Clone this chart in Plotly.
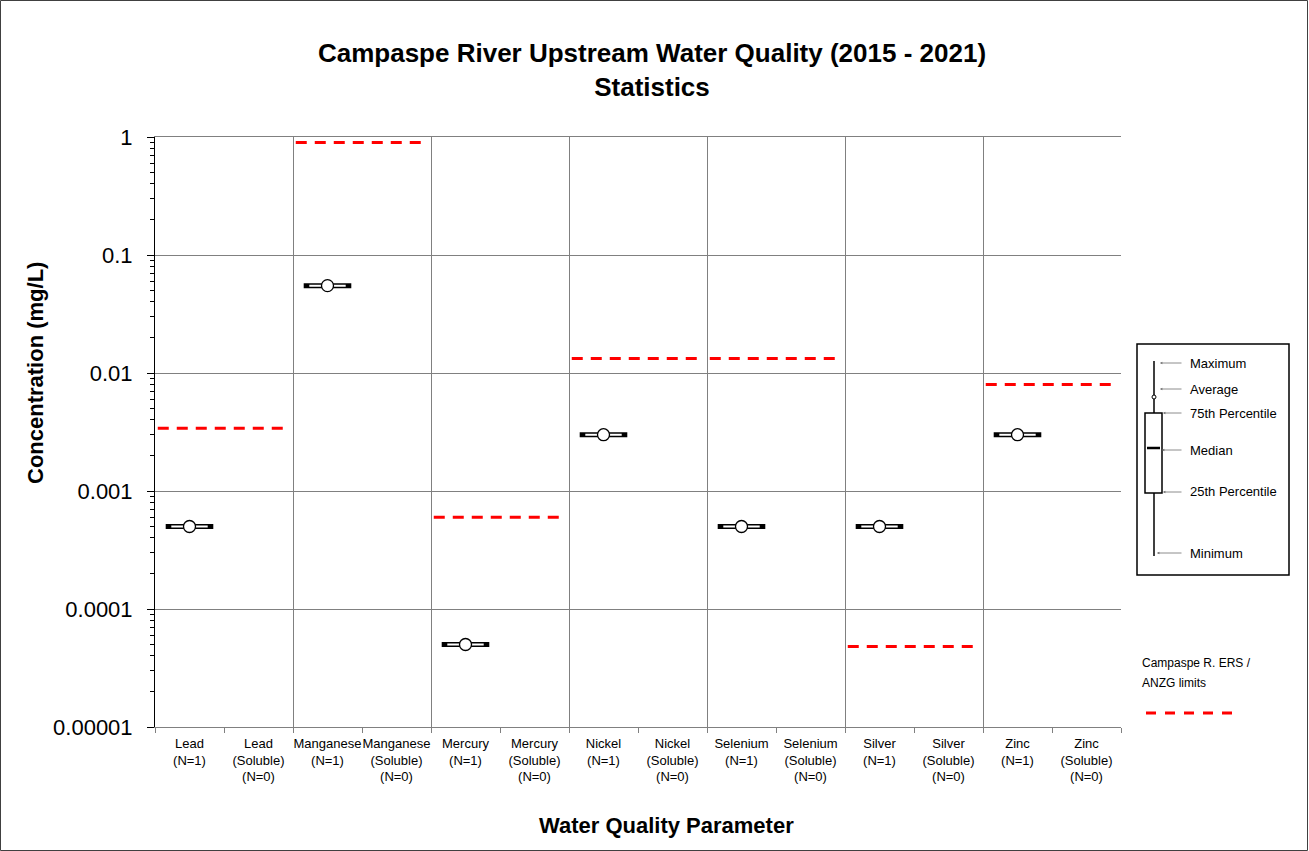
import plotly.graph_objects as go

# ---------------- data ----------------
parameters = ["Lead", "Manganese", "Mercury", "Nickel", "Selenium", "Silver", "Zinc"]
n_total = [1, 1, 1, 1, 1, 1, 1]
n_soluble = [0, 0, 0, 0, 0, 0, 0]
total_values = [0.0005, 0.055, 0.00005, 0.003, 0.0005, 0.0005, 0.003]
limit_values = [0.0034, 0.9, 0.0006, 0.0133, 0.0133, 0.000048, 0.008]
y_tick_vals = [1e-5, 1e-4, 1e-3, 1e-2, 1e-1, 1]
y_tick_text = ["0.00001", "0.0001", "0.001", "0.01", "0.1", "1"]

tick_labels = []
for p, nt, ns in zip(parameters, n_total, n_soluble):
    tick_labels.append(f"{p}<br>(N={nt})")
    tick_labels.append(f"{p}<br>(Soluble)<br>(N={ns})")
cat_pos = list(range(len(tick_labels)))
marker_x = [2 * i for i in range(len(parameters))]

# ---------------- layout geometry ----------------
W, H = 1309, 851
L, R, T, B = 155, 1121, 137, 727
PW, PH = R - L, B - T


def px(x):
    return (x - L) / PW


def py(y):
    return (B - y) / PH


FONT = "Liberation Sans, Arial, sans-serif"

fig = go.Figure()

# limit lines (span both columns of each parameter)
for i, lv in enumerate(limit_values):
    fig.add_trace(go.Scatter(
        x=[2 * i - 0.5 + 0.04, 2 * i + 1.5 - 0.04], y=[lv, lv],
        xaxis="x2", yaxis="y", mode="lines",
        line=dict(color="#ff0000", width=3, dash="11px,8px"),
        showlegend=False, hoverinfo="skip"))

# box-like markers (all statistics equal for N=1)
fig.add_trace(go.Scatter(x=marker_x, y=total_values, mode="markers",
                         marker=dict(symbol="line-ew", size=34,
                                     line=dict(color="black", width=5)),
                         showlegend=False, hoverinfo="skip"))
fig.add_trace(go.Scatter(x=marker_x, y=total_values, mode="markers",
                         marker=dict(symbol="line-ew", size=26,
                                     line=dict(color="white", width=2)),
                         showlegend=False, hoverinfo="skip"))
fig.add_trace(go.Scatter(x=marker_x, y=total_values, mode="markers",
                         marker=dict(symbol="circle", size=12, color="white",
                                     line=dict(color="black", width=1.3)),
                         showlegend=False, hoverinfo="y"))

minor_y = [m * 10 ** e for e in range(-5, 0) for m in range(2, 10)]

fig.update_layout(
    width=W, height=H,
    margin=dict(l=L, r=W - R, t=T, b=H - B),
    paper_bgcolor="white", plot_bgcolor="white",
    font=dict(family=FONT, color="black"),
    title=dict(text="<b>Campaspe River Upstream Water Quality (2015 - 2021)<br>Statistics</b>",
               x=652 / W, xanchor="center", xref="container",
               y=1 - 62 / H, yanchor="middle", yref="container",
               font=dict(size=26, family=FONT, color="black")),
    xaxis=dict(range=[-0.5, 13.5], tickmode="array", tickvals=cat_pos,
               ticktext=tick_labels, ticks="", showgrid=False, zeroline=False,
               showline=True, linecolor="#808080", linewidth=1,
               tickangle=0, ticklabelstandoff=4,
               tickfont=dict(size=13, family=FONT, color="black"),
               minor=dict(tickvals=[c - 0.5 for c in range(15)], ticks="outside",
                          ticklen=5, tickcolor="#808080", showgrid=False)),
    xaxis2=dict(range=[-0.5, 13.5], overlaying="x", side="top", tickmode="array",
                tickvals=[c + 1.5 for c in range(0, 12, 2)], showticklabels=False,
                ticks="", showgrid=True, gridcolor="#808080", gridwidth=1,
                zeroline=False, showline=True, linecolor="#808080", linewidth=1),
    yaxis=dict(type="log", range=[-5, 0], tickmode="array", tickvals=y_tick_vals,
               ticktext=y_tick_text, ticks="outside", ticklen=7, tickcolor="black",
               showline=True, linecolor="black", linewidth=1,
               showgrid=True, gridcolor="#808080", gridwidth=1, zeroline=False,
               ticklabelstandoff=10,
               tickfont=dict(size=22, family=FONT, color="black"),
               minor=dict(tickvals=minor_y, ticks="outside", ticklen=4,
                          tickcolor="black", showgrid=False)),
)

shapes = []
annotations = []
# axis titles
annotations.append(dict(xref="paper", yref="paper", x=px(35), y=py(373),
                        text="<b>Concentration (mg/L)</b>", textangle=-90,
                        showarrow=False, xanchor="center", yanchor="middle",
                        font=dict(size=22, family=FONT, color="black")))
annotations.append(dict(xref="paper", yref="paper", x=px(666), y=py(825),
                        text="<b>Water Quality Parameter</b>",
                        showarrow=False, xanchor="center", yanchor="middle",
                        font=dict(size=22, family=FONT, color="black")))
# outer chart border
shapes.append(dict(type="rect", xref="paper", yref="paper",
                   x0=px(0.5), x1=px(W - 1.5), y0=py(H - 0.5), y1=py(0.5),
                   line=dict(color="#404040", width=1)))
# box-plot key
shapes.append(dict(type="rect", xref="paper", yref="paper",
                   x0=px(1137), x1=px(1289), y0=py(575), y1=py(344),
                   line=dict(color="black", width=1.5)))
shapes.append(dict(type="line", xref="paper", yref="paper",
                   x0=px(1154), x1=px(1154), y0=py(361), y1=py(556),
                   line=dict(color="black", width=1.5)))
shapes.append(dict(type="rect", xref="paper", yref="paper",
                   x0=px(1145), x1=px(1162), y0=py(493), y1=py(413),
                   fillcolor="white", line=dict(color="black", width=1.5)))
shapes.append(dict(type="line", xref="paper", yref="paper",
                   x0=px(1147), x1=px(1160), y0=py(448), y1=py(448),
                   line=dict(color="black", width=2.5)))
shapes.append(dict(type="circle", xref="paper", yref="paper",
                   x0=px(1152), x1=px(1156), y0=py(399), y1=py(395),
                   fillcolor="white", line=dict(color="black", width=1)))
key_items = [("Maximum", 363, 1160), ("Average", 389, 1160),
             ("75th Percentile", 413, 1163), ("Median", 450, 1162),
             ("25th Percentile", 492, 1163), ("Minimum", 553, 1157)]
for label, yy, tip in key_items:
    annotations.append(dict(xref="paper", yref="paper", x=px(1188), y=py(yy),
                            text=label, showarrow=False, xanchor="left",
                            yanchor="middle",
                            font=dict(size=13, family=FONT, color="black")))
    annotations.append(dict(xref="paper", yref="paper", x=px(tip), y=py(yy),
                            text="", showarrow=True, ax=1183 - tip, ay=0,
                            arrowhead=2, arrowsize=0.6, arrowwidth=0.8,
                            arrowcolor="#707070"))
# limits key
for txt, yy in [("Campaspe R. ERS /", 663), ("ANZG limits", 683)]:
    annotations.append(dict(xref="paper", yref="paper", x=px(1140), y=py(yy),
                            text=txt, showarrow=False,
                            xanchor="left", yanchor="middle", align="left",
                            font=dict(size=12, family=FONT, color="black")))
shapes.append(dict(type="line", xref="paper", yref="paper",
                   x0=px(1146), x1=px(1236), y0=py(713), y1=py(713),
                   line=dict(color="#ff0000", width=3, dash="10px,9px")))

fig.update_layout(shapes=shapes, annotations=annotations)

fig.write_html("out.html", config={"displayModeBar": False},
               post_script="document.body.style.margin='0';")
